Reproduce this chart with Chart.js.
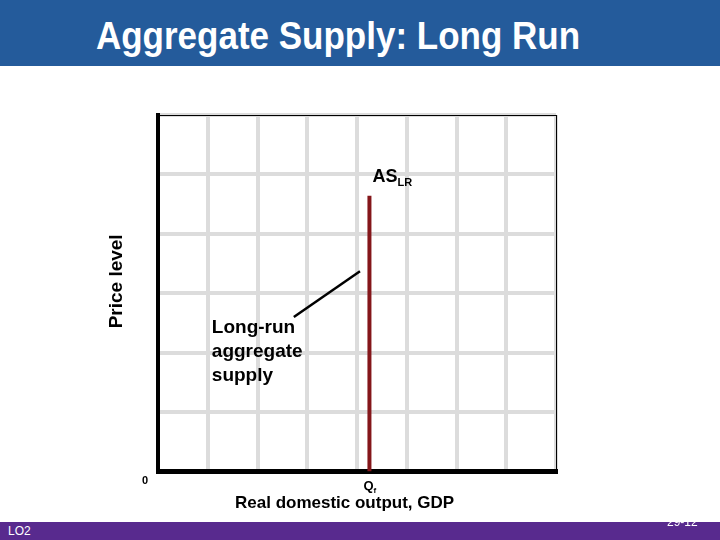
<!DOCTYPE html>
<html>
<head>
<meta charset="utf-8">
<script src="https://cdn.jsdelivr.net/npm/chart.js@4.4.1/dist/chart.umd.min.js"></script>
<style>
  body { margin: 0; width: 720px; height: 540px; background: #fff; position: relative; overflow: hidden; font-family: "Liberation Sans", Arial, sans-serif; }
  #titulo { position: absolute; left: 0; top: 0; width: 720px; height: 66px; background: #245b9b; z-index: 2; }
  #titulo span { position: absolute; left: 0; width: 676px; top: 14px; text-align: center; color: #fff; font-weight: bold; font-size: 35px; line-height: 42px; transform: scaleY(1.13); transform-origin: 50% 50%; }
  #pie { position: absolute; left: 0; top: 522px; width: 720px; height: 18px; background: #582a8e; z-index: 2; }
  #lo { position: absolute; left: 8px; top: 524px; color: #fff; font-size: 12px; line-height: 14px; z-index: 3; }
  #pag { position: absolute; left: 667px; top: 515px; color: #fff; font-size: 12px; line-height: 14px; z-index: 3; }
  #grafico { position: absolute; left: 0; top: 0; }
</style>
</head>
<body>
<div id="titulo"><span>Aggregate Supply: Long Run</span></div>
<div id="pie"></div>
<div id="lo">LO2</div>
<div id="pag">29-12</div>
<canvas id="grafico" width="720" height="540"></canvas>
<script>
// escala del grafico (unidades de la cuadricula)
const xMax = 8;
const yMax = 6;

// curva de oferta agregada de largo plazo (vertical en Qf)
const asX = [4.25, 4.25];
const asY = [0, 4.64];

// linea que apunta a la curva desde la etiqueta
const flechaX = [2.73, 4.06];
const flechaY = [2.60, 3.37];

const etiquetaCurva = ["Long-run", "aggregate", "supply"];

const aPuntos = (xs, ys) => xs.map((x, i) => ({ x: x, y: ys[i] }));

const textos = {
  id: 'textos',
  afterDatasetsDraw(chart) {
    const ctx = chart.ctx;
    const sx = chart.scales.x, sy = chart.scales.y;
    const px = v => sx.getPixelForValue(v);
    const py = v => sy.getPixelForValue(v);
    ctx.save();
    ctx.fillStyle = '#000';
    ctx.textBaseline = 'alphabetic';

    // AS con subindice LR
    ctx.textAlign = 'left';
    ctx.font = 'bold 18px "Liberation Sans", Arial';
    const xAS = px(asX[0]) + 3;
    ctx.fillText('AS', xAS, py(asY[1]) - 14);
    const wAS = ctx.measureText('AS').width;
    ctx.font = 'bold 11px "Liberation Sans", Arial';
    ctx.fillText('LR', xAS + wAS, py(asY[1]) - 10);

    // etiqueta de la curva
    ctx.font = 'bold 19px "Liberation Sans", Arial';
    etiquetaCurva.forEach((t, i) => {
      ctx.fillText(t, px(flechaX[0]) - 82, py(flechaY[0]) + 16 + i * 24);
    });

    // origen
    ctx.textAlign = 'center';
    ctx.font = 'bold 11px "Liberation Sans", Arial';
    ctx.fillText('0', chart.chartArea.left - 13, chart.chartArea.bottom + 12);

    // Qf bajo la curva
    ctx.font = 'bold 13px "Liberation Sans", Arial';
    ctx.fillText('Q', px(asX[0]) - 1, chart.chartArea.bottom + 18);
    ctx.textAlign = 'left';
    ctx.font = 'bold 8px "Liberation Sans", Arial';
    ctx.fillText('f', px(asX[0]) + 4, chart.chartArea.bottom + 21);

    // titulo eje x
    ctx.textAlign = 'center';
    ctx.font = 'bold 17px "Liberation Sans", Arial';
    ctx.fillText('Real domestic output, GDP', px(3.75), chart.chartArea.bottom + 36);

    // titulo eje y
    ctx.translate(chart.chartArea.left - 41.5, py(3.2));
    ctx.rotate(-Math.PI / 2);
    ctx.textBaseline = 'middle';
    ctx.font = 'bold 19px "Liberation Sans", Arial';
    ctx.fillText('Price level', 0, 0);
    ctx.restore();
  }
};

const ejeBase = (max, pos, ancho) => ({
  type: 'linear',
  position: pos,
  min: 0,
  max: max,
  ticks: { display: false, stepSize: 1 },
  grid: { color: '#dcdcdc', lineWidth: 4, drawTicks: false },
  border: { color: '#000', width: ancho }
});

new Chart('grafico', {
  type: 'scatter',
  data: {
    datasets: [{
      data: aPuntos(asX, asY),
      showLine: true,
      borderColor: '#84161a',
      borderWidth: 4,
      pointRadius: 0
    }, {
      data: aPuntos(flechaX, flechaY),
      showLine: true,
      borderColor: '#000',
      borderWidth: 2.5,
      pointRadius: 0
    }]
  },
  options: {
    responsive: false,
    animation: false,
    layout: { padding: { left: 158, top: 115, right: 164, bottom: 68.5 } },
    plugins: { legend: { display: false }, tooltip: { enabled: false } },
    scales: {
      x: ejeBase(xMax, 'bottom', 5),
      y: ejeBase(yMax, 'left', 4),
      x2: {
        type: 'linear', position: 'top', axis: 'x', min: 0, max: xMax,
        ticks: { display: false }, grid: { display: false, drawTicks: false },
        border: { color: '#000', width: 1 }
      },
      y2: {
        type: 'linear', position: 'right', axis: 'y', min: 0, max: yMax,
        ticks: { display: false }, grid: { display: false, drawTicks: false },
        border: { color: '#000', width: 1 }
      }
    }
  },
  plugins: [textos]
});
</script>
</body>
</html>
